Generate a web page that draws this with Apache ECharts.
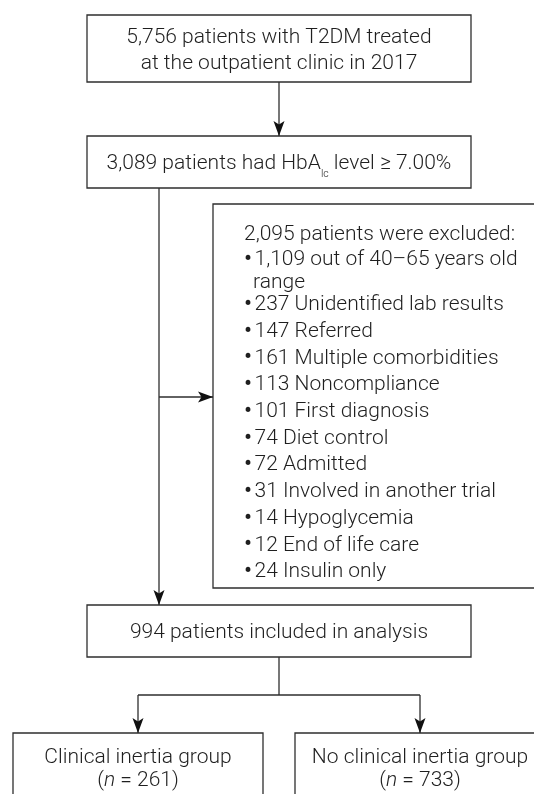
<!DOCTYPE html>
<html><head><meta charset="utf-8">
<script src="https://cdn.jsdelivr.net/npm/echarts@6/dist/echarts.min.js"></script>
<style>html,body{margin:0;padding:0;background:#fff}#c{width:534px;height:794px}</style>
</head><body><div id="c"></div>
<script>
// ---------- data ----------
const screenedPatients = 5756;
const screenedLabel = ['patients with T2DM treated', 'at the outpatient clinic in 2017'];
const hba1cPatients = 3089;
const hba1cLabel = ['patients had HbA', 'lc', ' level ≥ 7.00%'];
const excludedTotal = 2095;
const excludedLabel = 'patients were excluded:';
const excludedCounts = [1109, 237, 147, 161, 113, 101, 74, 72, 31, 14, 12, 24];
const excludedReasons = ['out of 40–65 years old\nrange', 'Unidentified lab results', 'Referred',
  'Multiple comorbidities', 'Noncompliance', 'First diagnosis', 'Diet control', 'Admitted',
  'Involved in another trial', 'Hypoglycemia', 'End of life care', 'Insulin only'];
const includedPatients = 994;
const includedLabel = 'patients included in analysis';
const groupNames = ['Clinical inertia group', 'No clinical inertia group'];
const groupCounts = [261, 733];

// ---------- layout (pixel frame of the figure) ----------
const W = 534, H = 794;
const FONT = 'Roboto', FS = 21, FW = 300, INK = '#1f1f1f', LINE = '#2e2e2e';
const boxes = [
  [87, 15, 471, 82], [87, 136, 471, 188], [213, 204, 560, 588],
  [87, 605, 471, 657], [13, 733, 263, 830], [295, 733, 545, 830]
];
const connectors = [
  {pts: [[279, 82], [279, 136]], arrow: true},
  {pts: [[159, 188], [159, 605]], arrow: true},
  {pts: [[159, 397], [213, 397]], arrow: true},
  {pts: [[279, 657], [279, 695]], arrow: false},
  {pts: [[138, 695], [420, 695]], arrow: false},
  {pts: [[138, 695], [138, 733]], arrow: true},
  {pts: [[420, 695], [420, 733]], arrow: true}
];
const fmt = n => n.toLocaleString('en-US');
const exHeaderY = 235, exFirstY = 260, exWrapGap = 22.5, exStep = 26.7;
const exLeft = 244, exBulletX = 248, exTextX = 254.5, exWrapX = 253;

const texts = [];
texts.push({x: 279, y: 37.5, t: fmt(screenedPatients) + ' ' + screenedLabel[0], a: 'center'});
texts.push({x: 279, y: 64, t: screenedLabel[1], a: 'center'});
texts.push({x: 279, y: 164, t: fmt(hba1cPatients) + ' ' + hba1cLabel[0] + '{sub|' + hba1cLabel[1] + '}' + hba1cLabel[2], a: 'center', lh: 31});
texts.push({x: exLeft, y: exHeaderY, t: fmt(excludedTotal) + ' ' + excludedLabel, a: 'left'});
let yy = exFirstY;
excludedCounts.forEach((c, i) => {
  const parts = excludedReasons[i].split('\n');
  texts.push({x: exBulletX, y: yy, t: '{b|•}', a: 'center'});
  texts.push({x: exTextX, y: yy, t: fmt(c) + ' ' + parts[0], a: 'left'});
  for (let k = 1; k < parts.length; k++) {
    yy += exWrapGap;
    texts.push({x: exWrapX, y: yy, t: parts[k], a: 'left'});
  }
  yy += parts.length > 1 ? exWrapGap : exStep;
});
texts.push({x: 279, y: 633, t: fmt(includedPatients) + ' ' + includedLabel, a: 'center'});
const groupX = [138, 420];
groupNames.forEach((g, i) => {
  texts.push({x: groupX[i], y: 757.5, t: g, a: 'center'});
  texts.push({x: groupX[i], y: 781, t: '({it|n} = ' + groupCounts[i] + ')', a: 'center'});
});

const rich = {
  sub: {fontSize: 10.5, fontFamily: FONT, fontWeight: FW, lineHeight: 10, verticalAlign: 'bottom', fill: INK},
  it: {fontSize: FS, fontFamily: FONT, fontWeight: FW, fontStyle: 'italic', fill: INK},
  b: {fontSize: 24, fontFamily: FONT, fill: INK}
};

const chart = echarts.init(document.getElementById('c'), null, {renderer: 'canvas'});
chart.setOption({
  animation: false,
  backgroundColor: '#fff',
  grid: {left: 0, right: 0, top: 0, bottom: 0},
  xAxis: {type: 'value', min: 0, max: W, show: false},
  yAxis: {type: 'value', min: 0, max: H, inverse: true, show: false},
  series: [
    {
      type: 'custom', clip: false, silent: true,
      encode: {x: [0, 2], y: [1, 3]},
      data: boxes,
      renderItem: (p, api) => {
        const a = api.coord([api.value(0), api.value(1)]);
        const b = api.coord([api.value(2), api.value(3)]);
        return {type: 'rect', shape: {x: a[0], y: a[1], width: b[0] - a[0], height: b[1] - a[1]},
          style: {fill: '#fff', stroke: LINE, lineWidth: 1.3}};
      }
    },
    {
      type: 'custom', clip: false, silent: true,
      encode: {x: 0, y: 1},
      data: connectors.map(c => c.pts[0]),
      renderItem: (p, api) => {
        const c = connectors[p.dataIndex];
        const pts = c.pts.map(q => api.coord(q));
        const children = [{type: 'polyline', shape: {points: pts}, style: {stroke: LINE, lineWidth: 1.3, fill: null}}];
        if (c.arrow) {
          const e = pts[pts.length - 1], s = pts[pts.length - 2];
          const dx = e[0] - s[0], dy = e[1] - s[1], L = Math.hypot(dx, dy);
          const ux = dx / L, uy = dy / L, nx = -uy, ny = ux;
          const len = 15, hw = 5.5, notch = 11.5;
          const base = [e[0] - ux * len, e[1] - uy * len];
          children.push({type: 'polygon', shape: {points: [
            e,
            [base[0] + nx * hw, base[1] + ny * hw],
            [e[0] - ux * notch, e[1] - uy * notch],
            [base[0] - nx * hw, base[1] - ny * hw]
          ]}, style: {fill: '#111', stroke: null}});
        }
        return {type: 'group', children};
      }
    },
    {
      type: 'custom', clip: false, silent: true,
      encode: {x: 0, y: 1},
      data: texts.map(t => [t.x, t.y]),
      renderItem: (p, api) => {
        const t = texts[p.dataIndex];
        const q = api.coord([api.value(0), api.value(1)]);
        return {type: 'text', x: q[0], y: q[1], style: {
          text: t.t, x: 0, y: 0, align: t.a, verticalAlign: 'middle',
          fontSize: FS, fontFamily: FONT, fontWeight: FW, fill: INK, lineHeight: t.lh || FS * 1.2, rich
        }};
      }
    }
  ]
});
</script></body></html>
